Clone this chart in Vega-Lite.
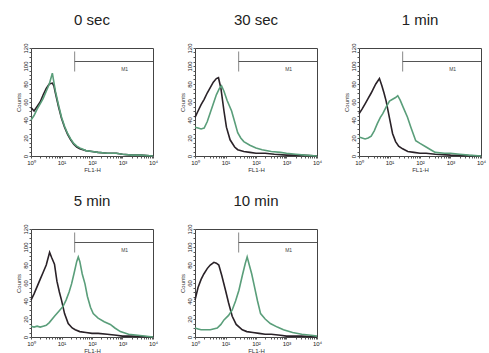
{
  "$schema": "https://vega.github.io/schema/vega-lite/v6.json",
  "background": "white",
  "padding": {"left": 14, "top": 12, "right": 6, "bottom": 0},
  "config": {
    "font": "Liberation Sans",
    "view": {"stroke": "#444", "strokeWidth": 1},
    "axis": {"grid": false, "domain": false, "labelFontSize": 6, "titleFontSize": 6, "labelColor": "#222", "titleColor": "#333", "tickColor": "#555", "tickSize": 2, "titleFontWeight": "normal"}
  },
  "data": {"values": [
    {"p":"0 sec","s":"ctrl","x":1,"c":54},{"p":"0 sec","s":"ctrl","x":1.122,"c":52},{"p":"0 sec","s":"ctrl","x":1.259,"c":50},{"p":"0 sec","s":"ctrl","x":1.585,"c":55},{"p":"0 sec","s":"ctrl","x":1.995,"c":60},{"p":"0 sec","s":"ctrl","x":2.512,"c":68},{"p":"0 sec","s":"ctrl","x":3.162,"c":75},{"p":"0 sec","s":"ctrl","x":3.981,"c":80},{"p":"0 sec","s":"ctrl","x":5.012,"c":81},{"p":"0 sec","s":"ctrl","x":5.623,"c":78},{"p":"0 sec","s":"ctrl","x":6.31,"c":70},{"p":"0 sec","s":"ctrl","x":7.943,"c":55},{"p":"0 sec","s":"ctrl","x":10,"c":42},{"p":"0 sec","s":"ctrl","x":12.59,"c":32},{"p":"0 sec","s":"ctrl","x":15.85,"c":24},{"p":"0 sec","s":"ctrl","x":19.95,"c":18},{"p":"0 sec","s":"ctrl","x":25.12,"c":13},{"p":"0 sec","s":"ctrl","x":31.62,"c":10},{"p":"0 sec","s":"ctrl","x":39.81,"c":8},{"p":"0 sec","s":"ctrl","x":63.1,"c":6},{"p":"0 sec","s":"ctrl","x":100,"c":5},{"p":"0 sec","s":"ctrl","x":158.5,"c":4},{"p":"0 sec","s":"ctrl","x":316.2,"c":3},{"p":"0 sec","s":"ctrl","x":631,"c":3},{"p":"0 sec","s":"ctrl","x":1000,"c":2},{"p":"0 sec","s":"ctrl","x":1995,"c":1},{"p":"0 sec","s":"ctrl","x":3981,"c":1},{"p":"0 sec","s":"ctrl","x":10000,"c":0},
    {"p":"0 sec","s":"treat","x":1,"c":40},{"p":"0 sec","s":"treat","x":1.259,"c":45},{"p":"0 sec","s":"treat","x":1.585,"c":52},{"p":"0 sec","s":"treat","x":1.995,"c":58},{"p":"0 sec","s":"treat","x":2.512,"c":64},{"p":"0 sec","s":"treat","x":3.162,"c":72},{"p":"0 sec","s":"treat","x":3.981,"c":80},{"p":"0 sec","s":"treat","x":5.012,"c":92},{"p":"0 sec","s":"treat","x":5.623,"c":82},{"p":"0 sec","s":"treat","x":6.31,"c":72},{"p":"0 sec","s":"treat","x":7.943,"c":57},{"p":"0 sec","s":"treat","x":10,"c":43},{"p":"0 sec","s":"treat","x":12.59,"c":33},{"p":"0 sec","s":"treat","x":15.85,"c":25},{"p":"0 sec","s":"treat","x":19.95,"c":19},{"p":"0 sec","s":"treat","x":25.12,"c":14},{"p":"0 sec","s":"treat","x":31.62,"c":11},{"p":"0 sec","s":"treat","x":39.81,"c":9},{"p":"0 sec","s":"treat","x":63.1,"c":6},{"p":"0 sec","s":"treat","x":100,"c":5},{"p":"0 sec","s":"treat","x":158.5,"c":4},{"p":"0 sec","s":"treat","x":316.2,"c":3},{"p":"0 sec","s":"treat","x":631,"c":3},{"p":"0 sec","s":"treat","x":1000,"c":2},{"p":"0 sec","s":"treat","x":1995,"c":1},{"p":"0 sec","s":"treat","x":3981,"c":1},{"p":"0 sec","s":"treat","x":10000,"c":0},

    {"p":"30 sec","s":"ctrl","x":1,"c":43},{"p":"30 sec","s":"ctrl","x":1.259,"c":50},{"p":"30 sec","s":"ctrl","x":1.585,"c":57},{"p":"30 sec","s":"ctrl","x":1.995,"c":63},{"p":"30 sec","s":"ctrl","x":2.512,"c":70},{"p":"30 sec","s":"ctrl","x":3.162,"c":76},{"p":"30 sec","s":"ctrl","x":3.981,"c":82},{"p":"30 sec","s":"ctrl","x":5.012,"c":86},{"p":"30 sec","s":"ctrl","x":5.888,"c":87},{"p":"30 sec","s":"ctrl","x":7.079,"c":75},{"p":"30 sec","s":"ctrl","x":8.913,"c":50},{"p":"30 sec","s":"ctrl","x":10.72,"c":32},{"p":"30 sec","s":"ctrl","x":14.13,"c":18},{"p":"30 sec","s":"ctrl","x":19.95,"c":10},{"p":"30 sec","s":"ctrl","x":25.12,"c":7},{"p":"30 sec","s":"ctrl","x":39.81,"c":5},{"p":"30 sec","s":"ctrl","x":63.1,"c":4},{"p":"30 sec","s":"ctrl","x":100,"c":3},{"p":"30 sec","s":"ctrl","x":199.5,"c":3},{"p":"30 sec","s":"ctrl","x":398.1,"c":2},{"p":"30 sec","s":"ctrl","x":1000,"c":1},{"p":"30 sec","s":"ctrl","x":3162,"c":1},{"p":"30 sec","s":"ctrl","x":10000,"c":0},
    {"p":"30 sec","s":"treat","x":1,"c":32},{"p":"30 sec","s":"treat","x":1.259,"c":31},{"p":"30 sec","s":"treat","x":1.585,"c":30},{"p":"30 sec","s":"treat","x":1.995,"c":31},{"p":"30 sec","s":"treat","x":2.512,"c":38},{"p":"30 sec","s":"treat","x":3.162,"c":48},{"p":"30 sec","s":"treat","x":3.981,"c":58},{"p":"30 sec","s":"treat","x":5.012,"c":68},{"p":"30 sec","s":"treat","x":6.31,"c":75},{"p":"30 sec","s":"treat","x":7.413,"c":78},{"p":"30 sec","s":"treat","x":8.913,"c":72},{"p":"30 sec","s":"treat","x":11.22,"c":62},{"p":"30 sec","s":"treat","x":15.85,"c":50},{"p":"30 sec","s":"treat","x":19.95,"c":38},{"p":"30 sec","s":"treat","x":25.12,"c":26},{"p":"30 sec","s":"treat","x":31.62,"c":20},{"p":"30 sec","s":"treat","x":39.81,"c":16},{"p":"30 sec","s":"treat","x":63.1,"c":12},{"p":"30 sec","s":"treat","x":100,"c":9},{"p":"30 sec","s":"treat","x":158.5,"c":7},{"p":"30 sec","s":"treat","x":316.2,"c":5},{"p":"30 sec","s":"treat","x":631,"c":4},{"p":"30 sec","s":"treat","x":1000,"c":3},{"p":"30 sec","s":"treat","x":1995,"c":2},{"p":"30 sec","s":"treat","x":3981,"c":1},{"p":"30 sec","s":"treat","x":10000,"c":0},

    {"p":"1 min","s":"ctrl","x":1,"c":47},{"p":"1 min","s":"ctrl","x":1.259,"c":52},{"p":"1 min","s":"ctrl","x":1.585,"c":58},{"p":"1 min","s":"ctrl","x":1.995,"c":64},{"p":"1 min","s":"ctrl","x":2.512,"c":70},{"p":"1 min","s":"ctrl","x":2.884,"c":74},{"p":"1 min","s":"ctrl","x":3.548,"c":80},{"p":"1 min","s":"ctrl","x":4.677,"c":86},{"p":"1 min","s":"ctrl","x":5.623,"c":78},{"p":"1 min","s":"ctrl","x":6.607,"c":70},{"p":"1 min","s":"ctrl","x":7.762,"c":61},{"p":"1 min","s":"ctrl","x":10,"c":42},{"p":"1 min","s":"ctrl","x":12.59,"c":25},{"p":"1 min","s":"ctrl","x":15.85,"c":16},{"p":"1 min","s":"ctrl","x":19.95,"c":11},{"p":"1 min","s":"ctrl","x":26.92,"c":8},{"p":"1 min","s":"ctrl","x":39.81,"c":5},{"p":"1 min","s":"ctrl","x":63.1,"c":4},{"p":"1 min","s":"ctrl","x":100,"c":3},{"p":"1 min","s":"ctrl","x":158.5,"c":3},{"p":"1 min","s":"ctrl","x":316.2,"c":2},{"p":"1 min","s":"ctrl","x":1000,"c":1},{"p":"1 min","s":"ctrl","x":10000,"c":0},
    {"p":"1 min","s":"treat","x":1,"c":21},{"p":"1 min","s":"treat","x":1.259,"c":20},{"p":"1 min","s":"treat","x":1.585,"c":19},{"p":"1 min","s":"treat","x":1.995,"c":20},{"p":"1 min","s":"treat","x":2.512,"c":22},{"p":"1 min","s":"treat","x":3.162,"c":28},{"p":"1 min","s":"treat","x":3.981,"c":36},{"p":"1 min","s":"treat","x":5.012,"c":43},{"p":"1 min","s":"treat","x":6.026,"c":47},{"p":"1 min","s":"treat","x":7.943,"c":55},{"p":"1 min","s":"treat","x":10,"c":61},{"p":"1 min","s":"treat","x":12.59,"c":63},{"p":"1 min","s":"treat","x":15.85,"c":65},{"p":"1 min","s":"treat","x":18.62,"c":67},{"p":"1 min","s":"treat","x":22.39,"c":62},{"p":"1 min","s":"treat","x":28.18,"c":54},{"p":"1 min","s":"treat","x":38.9,"c":43},{"p":"1 min","s":"treat","x":50.12,"c":32},{"p":"1 min","s":"treat","x":72.44,"c":17},{"p":"1 min","s":"treat","x":100,"c":14},{"p":"1 min","s":"treat","x":158.5,"c":10},{"p":"1 min","s":"treat","x":223.9,"c":7},{"p":"1 min","s":"treat","x":316.2,"c":4},{"p":"1 min","s":"treat","x":631,"c":3},{"p":"1 min","s":"treat","x":1000,"c":3},{"p":"1 min","s":"treat","x":1995,"c":2},{"p":"1 min","s":"treat","x":3981,"c":1},{"p":"1 min","s":"treat","x":10000,"c":0},

    {"p":"5 min","s":"ctrl","x":1,"c":41},{"p":"5 min","s":"ctrl","x":1.259,"c":48},{"p":"5 min","s":"ctrl","x":1.585,"c":56},{"p":"5 min","s":"ctrl","x":1.995,"c":64},{"p":"5 min","s":"ctrl","x":2.512,"c":72},{"p":"5 min","s":"ctrl","x":3.162,"c":80},{"p":"5 min","s":"ctrl","x":4.074,"c":94},{"p":"5 min","s":"ctrl","x":4.786,"c":88},{"p":"5 min","s":"ctrl","x":5.888,"c":81},{"p":"5 min","s":"ctrl","x":7.079,"c":62},{"p":"5 min","s":"ctrl","x":8.511,"c":50},{"p":"5 min","s":"ctrl","x":10,"c":41},{"p":"5 min","s":"ctrl","x":12.59,"c":26},{"p":"5 min","s":"ctrl","x":16.6,"c":15},{"p":"5 min","s":"ctrl","x":22.39,"c":10},{"p":"5 min","s":"ctrl","x":28.18,"c":8},{"p":"5 min","s":"ctrl","x":39.81,"c":6},{"p":"5 min","s":"ctrl","x":63.1,"c":5},{"p":"5 min","s":"ctrl","x":100,"c":4},{"p":"5 min","s":"ctrl","x":158.5,"c":4},{"p":"5 min","s":"ctrl","x":316.2,"c":3},{"p":"5 min","s":"ctrl","x":631,"c":2},{"p":"5 min","s":"ctrl","x":1000,"c":1},{"p":"5 min","s":"ctrl","x":1995,"c":1},{"p":"5 min","s":"ctrl","x":10000,"c":0},
    {"p":"5 min","s":"treat","x":1,"c":12},{"p":"5 min","s":"treat","x":1.259,"c":11},{"p":"5 min","s":"treat","x":1.585,"c":12},{"p":"5 min","s":"treat","x":1.995,"c":11},{"p":"5 min","s":"treat","x":2.512,"c":12},{"p":"5 min","s":"treat","x":3.162,"c":13},{"p":"5 min","s":"treat","x":3.981,"c":16},{"p":"5 min","s":"treat","x":5.888,"c":23},{"p":"5 min","s":"treat","x":7.943,"c":28},{"p":"5 min","s":"treat","x":11.22,"c":34},{"p":"5 min","s":"treat","x":14.13,"c":41},{"p":"5 min","s":"treat","x":17.78,"c":50},{"p":"5 min","s":"treat","x":21.38,"c":59},{"p":"5 min","s":"treat","x":26.3,"c":72},{"p":"5 min","s":"treat","x":31.62,"c":84},{"p":"5 min","s":"treat","x":35.48,"c":89},{"p":"5 min","s":"treat","x":39.81,"c":84},{"p":"5 min","s":"treat","x":47.86,"c":70},{"p":"5 min","s":"treat","x":58.88,"c":59},{"p":"5 min","s":"treat","x":70.79,"c":45},{"p":"5 min","s":"treat","x":89.13,"c":33},{"p":"5 min","s":"treat","x":109.6,"c":26},{"p":"5 min","s":"treat","x":158.5,"c":21},{"p":"5 min","s":"treat","x":251.2,"c":17},{"p":"5 min","s":"treat","x":398.1,"c":14},{"p":"5 min","s":"treat","x":562.3,"c":10},{"p":"5 min","s":"treat","x":851.1,"c":6},{"p":"5 min","s":"treat","x":1585,"c":3},{"p":"5 min","s":"treat","x":3162,"c":2},{"p":"5 min","s":"treat","x":10000,"c":0},

    {"p":"10 min","s":"ctrl","x":1,"c":41},{"p":"10 min","s":"ctrl","x":1.259,"c":55},{"p":"10 min","s":"ctrl","x":1.585,"c":64},{"p":"10 min","s":"ctrl","x":1.95,"c":70},{"p":"10 min","s":"ctrl","x":2.512,"c":76},{"p":"10 min","s":"ctrl","x":3.162,"c":80},{"p":"10 min","s":"ctrl","x":4.169,"c":83},{"p":"10 min","s":"ctrl","x":5.012,"c":82},{"p":"10 min","s":"ctrl","x":6.026,"c":80},{"p":"10 min","s":"ctrl","x":7.586,"c":68},{"p":"10 min","s":"ctrl","x":10,"c":52},{"p":"10 min","s":"ctrl","x":12.59,"c":38},{"p":"10 min","s":"ctrl","x":16.6,"c":23},{"p":"10 min","s":"ctrl","x":22.39,"c":14},{"p":"10 min","s":"ctrl","x":35.48,"c":8},{"p":"10 min","s":"ctrl","x":50.12,"c":6},{"p":"10 min","s":"ctrl","x":79.43,"c":5},{"p":"10 min","s":"ctrl","x":125.9,"c":4},{"p":"10 min","s":"ctrl","x":199.5,"c":3},{"p":"10 min","s":"ctrl","x":316.2,"c":3},{"p":"10 min","s":"ctrl","x":631,"c":2},{"p":"10 min","s":"ctrl","x":1000,"c":1},{"p":"10 min","s":"ctrl","x":3162,"c":1},{"p":"10 min","s":"ctrl","x":10000,"c":0},
    {"p":"10 min","s":"treat","x":1,"c":10},{"p":"10 min","s":"treat","x":1.259,"c":9},{"p":"10 min","s":"treat","x":1.585,"c":8},{"p":"10 min","s":"treat","x":1.995,"c":8},{"p":"10 min","s":"treat","x":2.512,"c":8},{"p":"10 min","s":"treat","x":3.162,"c":8},{"p":"10 min","s":"treat","x":3.981,"c":9},{"p":"10 min","s":"treat","x":5.37,"c":10},{"p":"10 min","s":"treat","x":7.079,"c":14},{"p":"10 min","s":"treat","x":8.913,"c":19},{"p":"10 min","s":"treat","x":12.59,"c":24},{"p":"10 min","s":"treat","x":16.6,"c":30},{"p":"10 min","s":"treat","x":21.38,"c":40},{"p":"10 min","s":"treat","x":27.54,"c":52},{"p":"10 min","s":"treat","x":35.48,"c":68},{"p":"10 min","s":"treat","x":44.67,"c":82},{"p":"10 min","s":"treat","x":51.29,"c":89},{"p":"10 min","s":"treat","x":60.26,"c":80},{"p":"10 min","s":"treat","x":72.44,"c":70},{"p":"10 min","s":"treat","x":85.11,"c":59},{"p":"10 min","s":"treat","x":112.2,"c":40},{"p":"10 min","s":"treat","x":141.3,"c":26},{"p":"10 min","s":"treat","x":199.5,"c":20},{"p":"10 min","s":"treat","x":295.1,"c":15},{"p":"10 min","s":"treat","x":501.2,"c":11},{"p":"10 min","s":"treat","x":794.3,"c":8},{"p":"10 min","s":"treat","x":1585,"c":5},{"p":"10 min","s":"treat","x":3162,"c":3},{"p":"10 min","s":"treat","x":6310,"c":2},{"p":"10 min","s":"treat","x":10000,"c":1},

    {"p":"0 sec","s":"M1","x":27,"c":105},{"p":"30 sec","s":"M1","x":27,"c":105},{"p":"1 min","s":"M1","x":27,"c":105},{"p":"5 min","s":"M1","x":27,"c":105},{"p":"10 min","s":"M1","x":27,"c":105}
  ]},
  "columns": 3,
  "spacing": {"column": 19, "row": 20},
  "resolve": {"axis": {"x": "independent", "y": "independent"}},
  "facet": {
    "field": "p", "type": "nominal", "sort": ["0 sec", "30 sec", "1 min", "5 min", "10 min"],
    "header": {"title": null, "labelFontSize": 15, "labelFont": "Liberation Sans", "labelColor": "#222", "labelPadding": 15}
  },
  "spec": {
    "width": 122,
    "height": 108,
    "encoding": {
      "x": {"field": "x", "type": "quantitative", "scale": {"type": "log", "domain": [1, 10000], "nice": false},
        "axis": {"title": "FL1-H", "labelOverlap": false, "labelFlush": false, "values": [1,2,3,4,5,6,7,8,9,10,20,30,40,50,60,70,80,90,100,200,300,400,500,600,700,800,900,1000,2000,3000,4000,5000,6000,7000,8000,9000,10000], "titlePadding": 1, "labelPadding": 1,
          "labelExpr": "datum.value == 1 ? '10⁰' : datum.value == 10 ? '10¹' : datum.value == 100 ? '10²' : datum.value == 1000 ? '10³' : datum.value == 10000 ? '10⁴' : ''"}},
      "y": {"field": "c", "type": "quantitative", "scale": {"domain": [0, 120], "nice": false},
        "axis": {"title": "Counts", "labelOverlap": false, "labelFlush": false, "values": [0,5,10,15,20,25,30,35,40,45,50,55,60,65,70,75,80,85,90,95,100,105,110,115,120], "labelExpr": "datum.value % 20 == 0 ? '' + datum.value : ''", "labelAngle": 270, "labelPadding": 1, "titlePadding": 1}}
    },
    "layer": [
      {
        "transform": [{"filter": "datum.s != 'M1'"}],
        "mark": {"type": "line", "strokeWidth": 1.6, "interpolate": "linear"},
        "encoding": {
          "color": {"field": "s", "type": "nominal", "scale": {"domain": ["ctrl", "treat"], "range": ["#2a2228", "#5a9e7a"]}, "legend": null},
          "order": {"field": "x", "type": "quantitative"}
        }
      },
      {
        "transform": [{"filter": "datum.s == 'M1'"}],
        "mark": {"type": "rule", "color": "#555", "strokeWidth": 1},
        "encoding": {"x2": {"datum": 10000}}
      },
      {
        "transform": [{"filter": "datum.s == 'M1'"}],
        "mark": {"type": "tick", "orient": "vertical", "color": "#555", "size": 20, "thickness": 1},
        "encoding": {}
      },
      {
        "transform": [{"filter": "datum.s == 'M1'"}],
        "mark": {"type": "text", "fontSize": 5, "color": "#444", "dx": 50, "dy": 7},
        "encoding": {"text": {"field": "s"}}
      }
    ]
  }
}
